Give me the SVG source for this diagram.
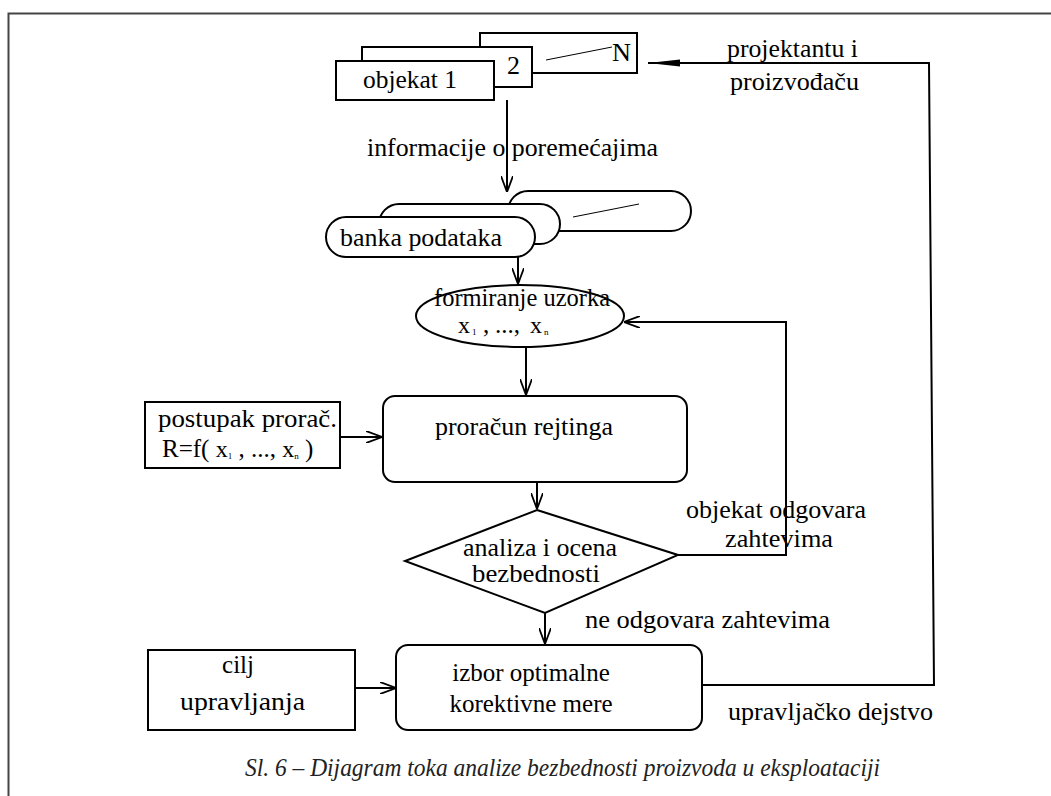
<svg xmlns="http://www.w3.org/2000/svg" width="1051" height="796" viewBox="0 0 1051 796">
  <style>
    .shape { fill: #fff; stroke: #000; stroke-width: 2; }
    .thin { fill: none; stroke: #000; stroke-width: 1; }
    .line { fill: none; stroke: #000; stroke-width: 2; }
    .frame { fill: none; stroke: #444; stroke-width: 2; }
    text { font-family: "Liberation Serif", "Times New Roman", serif; font-size: 25px; fill: #000; }
    .sub { font-size: 9px; }
    .var { font-size: 24px; }
    .cap { font-style: italic; fill: #222; font-size: 25px; }
  </style>
  <defs>
    <marker id="open" viewBox="0 0 16 12" refX="16" refY="6" markerWidth="16" markerHeight="12" markerUnits="userSpaceOnUse" orient="auto">
      <path d="M0,0 L16,6 L0,12" fill="none" stroke="#000" stroke-width="1.8"/>
    </marker>
    <marker id="harpoon" viewBox="0 0 32 8" refX="32" refY="4" markerWidth="32" markerHeight="8" markerUnits="userSpaceOnUse" orient="auto">
      <path d="M0,0.5 L32,4 L0,7.5 Z" fill="#000"/>
    </marker>
  </defs>

  <!-- page frame -->
  <path class="frame" d="M8.5,796 V13.5 H1051"/>

  <!-- connectors -->
  <g id="connectors">
    <path class="line" d="M507,100 V192" marker-end="url(#open)"/>
    <path class="line" d="M518,257 V284" marker-end="url(#open)"/>
    <path class="line" d="M526,347 V395" marker-end="url(#open)"/>
    <path class="line" d="M340,437 H382" marker-end="url(#open)"/>
    <path class="line" d="M537,482 V509" marker-end="url(#open)"/>
    <path class="line" d="M678,555 H786 V322 H624" marker-end="url(#open)"/>
    <path class="line" d="M545,613 V644" marker-end="url(#open)"/>
    <path class="line" d="M355,688 H396" marker-end="url(#open)"/>
    <path class="line" d="M702,685 H934 L929,63 H648" marker-end="url(#harpoon)"/>
  </g>

  <!-- objects (stacked) -->
  <g id="objects">
    <rect class="shape" x="480" y="33" width="157" height="40"/>
    <line class="thin" x1="546" y1="60" x2="612" y2="47"/>
    <text x="612" y="61" textLength="19" lengthAdjust="spacingAndGlyphs">N</text>
    <rect class="shape" x="362" y="47" width="170" height="40"/>
    <text x="507" y="74" textLength="13" lengthAdjust="spacingAndGlyphs">2</text>
    <rect class="shape" x="336" y="61" width="158" height="39"/>
    <text x="363" y="88" textLength="94" lengthAdjust="spacingAndGlyphs">objekat 1</text>
  </g>

  <g id="label-info">
    <text x="367" y="156" textLength="291" lengthAdjust="spacingAndGlyphs">informacije o poremećajima</text>
  </g>

  <!-- data bank (stacked) -->
  <g id="databank">
    <rect class="shape" x="508" y="191" width="183" height="40" rx="20" ry="20"/>
    <line class="thin" x1="573" y1="217" x2="639" y2="204"/>
    <rect class="shape" x="379" y="204" width="181" height="40" rx="20" ry="20"/>
    <rect class="shape" x="326" y="217" width="209" height="40" rx="20" ry="20"/>
    <text x="340" y="246" textLength="162" lengthAdjust="spacingAndGlyphs">banka podataka</text>
  </g>

  <!-- sample forming -->
  <g id="sample">
    <ellipse class="shape" cx="520" cy="316" rx="104" ry="31"/>
    <text x="434" y="306" textLength="176" lengthAdjust="spacingAndGlyphs">formiranje uzorka</text>
    <text y="333"><tspan class="var" x="458">x</tspan><tspan class="sub" x="472" dy="2">1</tspan><tspan x="483" dy="-2">,</tspan><tspan x="495">...,</tspan><tspan class="var" x="530">x</tspan><tspan class="sub" x="544" dy="2">n</tspan></text>
  </g>

  <!-- calculation procedure -->
  <g id="procedure">
    <rect class="shape" x="145" y="402" width="195" height="66"/>
    <text x="158" y="427" textLength="179" lengthAdjust="spacingAndGlyphs">postupak prorač.</text>
    <text x="162" y="457">R=f( <tspan class="var">x</tspan><tspan class="sub" dy="2">1</tspan><tspan dy="-2"> , ..., </tspan><tspan class="var">x</tspan><tspan class="sub" dy="2">n</tspan><tspan dy="-2"> )</tspan></text>
  </g>

  <!-- rating calculation -->
  <g id="rating">
    <rect class="shape" x="383" y="396" width="304" height="86" rx="12" ry="12"/>
    <text x="435" y="435" textLength="178" lengthAdjust="spacingAndGlyphs">proračun rejtinga</text>
  </g>

  <!-- safety analysis decision -->
  <g id="analysis">
    <polygon class="shape" points="537,510 678,555 545,613 405,561"/>
    <text x="463" y="556" textLength="154" lengthAdjust="spacingAndGlyphs">analiza i ocena</text>
    <text x="472" y="582" textLength="128" lengthAdjust="spacingAndGlyphs">bezbednosti</text>
  </g>

  <g id="label-ok">
    <text x="686" y="518" textLength="180" lengthAdjust="spacingAndGlyphs">objekat odgovara</text>
    <text x="725" y="547" textLength="108" lengthAdjust="spacingAndGlyphs">zahtevima</text>
  </g>

  <g id="label-notok">
    <text x="585" y="628" textLength="245" lengthAdjust="spacingAndGlyphs">ne odgovara zahtevima</text>
  </g>

  <!-- control goal -->
  <g id="goal">
    <rect class="shape" x="148" y="650" width="207" height="80"/>
    <text x="238" y="673" text-anchor="middle">cilj</text>
    <text x="180" y="710" textLength="125" lengthAdjust="spacingAndGlyphs">upravljanja</text>
  </g>

  <!-- corrective measure choice -->
  <g id="measure">
    <rect class="shape" x="396" y="645" width="306" height="85" rx="12" ry="12"/>
    <text x="531" y="681" text-anchor="middle">izbor optimalne</text>
    <text x="531" y="712" text-anchor="middle">korektivne mere</text>
  </g>

  <g id="label-feedback">
    <text x="727" y="57" textLength="131" lengthAdjust="spacingAndGlyphs">projektantu i</text>
    <text x="730" y="90" textLength="129" lengthAdjust="spacingAndGlyphs">proizvođaču</text>
    <text x="728" y="720" textLength="205" lengthAdjust="spacingAndGlyphs">upravljačko dejstvo</text>
  </g>

  <text class="cap" x="245" y="776" textLength="635" lengthAdjust="spacingAndGlyphs">Sl. 6 – Dijagram toka analize bezbednosti proizvoda u eksploataciji</text>
</svg>
